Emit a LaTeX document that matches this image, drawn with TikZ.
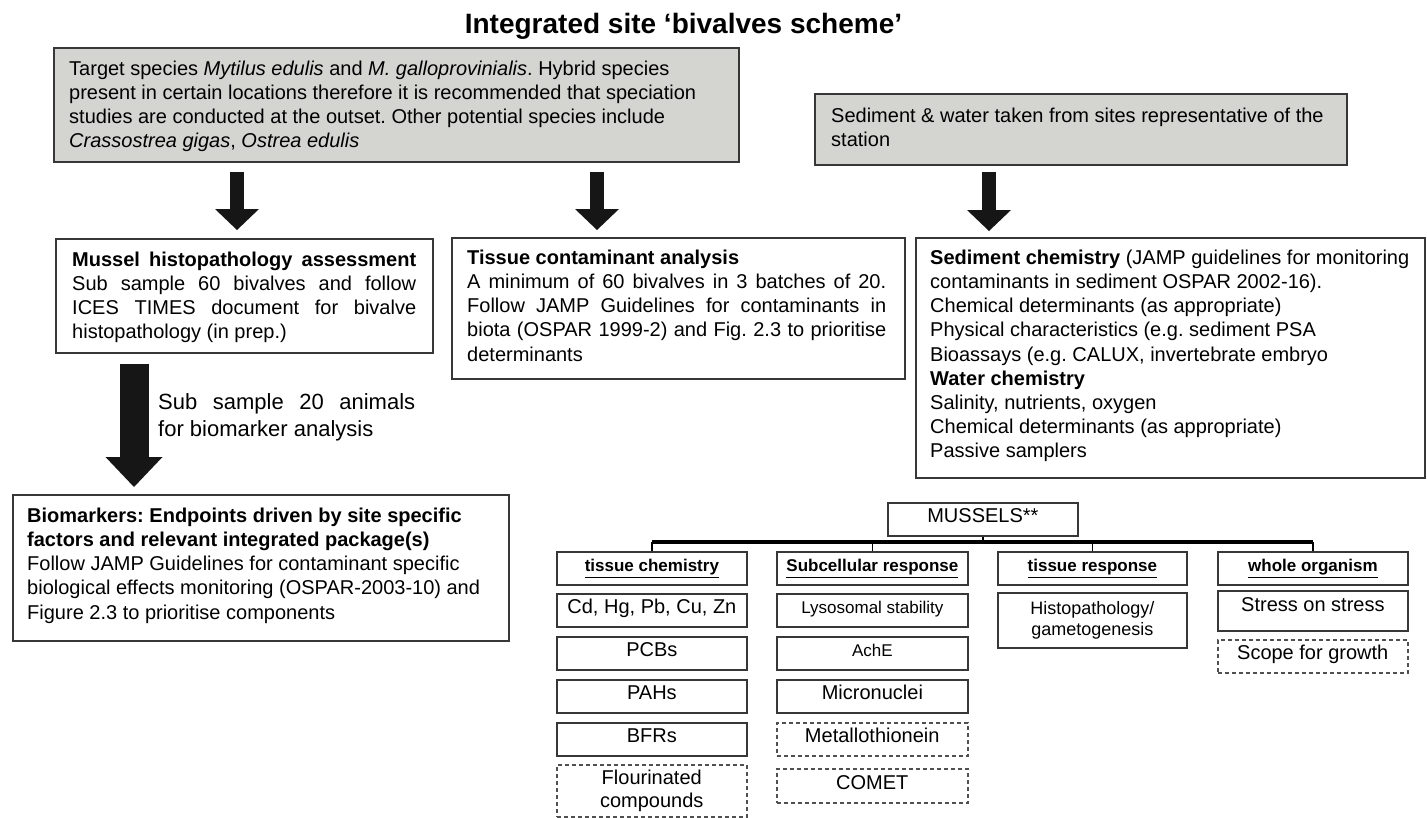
\documentclass[tikz,border=0pt]{standalone}
\usepackage{fontspec}
\setmainfont{Liberation Sans}
\usetikzlibrary{arrows.meta,shadows}
\definecolor{boxgray}{RGB}{212,212,208}
\definecolor{edgecol}{RGB}{55,55,55}
\definecolor{arrowblack}{RGB}{22,22,22}
\definecolor{dashcol}{RGB}{80,80,80}
\newcommand{\fsz}[2]{\fontsize{#1}{#2}\selectfont}
\newcommand{\firstln}{\rule{0pt}{16pt}}
\tolerance=10000
\frenchspacing
\tikzset{
  frame/.style={draw=edgecol, line width=1.6pt, inner sep=0pt, anchor=north west,
    drop shadow={shadow xshift=1.2pt, shadow yshift=-1.2pt, fill=black!55, opacity=0.8}},
  graybox/.style={frame, fill=boxgray},
  whitebox/.style={frame, fill=white},
  txt/.style={anchor=north west, inner sep=0pt, align=left, font=\fsz{20}{24.2}},
  jtxt/.style={txt, align=justify},
  bigarrow/.style={draw=arrowblack, line width=14pt, -{Triangle[width=44pt,length=21pt,line width=0pt]}},
  hugearrow/.style={draw=arrowblack, line width=29pt, -{Triangle[width=57pt,length=30pt,line width=0pt]}},
  item/.style={draw=edgecol, line width=1.8pt, fill=white, anchor=north west, inner sep=0pt,
    minimum width=190pt, minimum height=33pt, text height=13pt, text depth=6pt, font=\fsz{20}{23}},
  dashitem/.style={item, draw=dashcol, line width=1.5pt, dash pattern=on 4pt off 3pt},
  item2/.style={draw=edgecol, line width=1.8pt, fill=white, anchor=north west, inner sep=0pt,
    minimum width=190pt, align=center},
  head/.style={item, font=\bfseries\fsz{17}{20}},
  tick/.style={draw=black, line width=1.6pt},
  barline/.style={draw=black, line width=4pt}
}
\begin{document}
\begin{tikzpicture}[x=1pt,y=-1pt]
\useasboundingbox (0,0) rectangle (1427,817);
\fill[white] (0,0) rectangle (1427,817);

% title
\node[font=\bfseries\fsz{28}{32}, anchor=base, inner sep=0pt] (title) at (683.5,33) {Integrated site ‘bivalves scheme’};

% top boxes
\node[graybox, minimum width=685pt, minimum height=114pt] (tgt) at (53,47) {};
\node[txt] (tgtT) at (69,59) {\firstln Target species \textit{Mytilus edulis} and \textit{M. galloprovinialis}. Hybrid species\\
present in certain locations therefore it is recommended that speciation\\
studies are conducted at the outset. Other potential species include\\
\textit{Crassostrea gigas}, \textit{Ostrea edulis}};

\node[graybox, minimum width=532pt, minimum height=71pt] (sed) at (814,93) {};
\node[txt] (sedT) at (831,106) {\firstln Sediment \& water taken from sites representative of the\\ station};

% second row
\node[whitebox, minimum width=377pt, minimum height=114pt] (mh) at (55,238) {};
\node[jtxt, text width=344pt] (mhT) at (72,250) {\firstln\textbf{Mussel histopathology assessment}\linebreak
Sub sample 60 bivalves and follow\linebreak
ICES TIMES document for bivalve\linebreak
histopathology (in prep.)};

\node[whitebox, minimum width=453pt, minimum height=141pt] (tc) at (451,237) {};
\node[jtxt, text width=419pt] (tcT) at (467,248) {\firstln\textbf{Tissue contaminant analysis}\\
A minimum of 60 bivalves in 3 batches of 20.\linebreak
Follow JAMP Guidelines for contaminants in\linebreak
biota (OSPAR 1999-2) and Fig. 2.3 to prioritise\linebreak
determinants};

\node[whitebox, minimum width=509pt, minimum height=240pt] (sc) at (915,237) {};
\node[txt] (scT) at (930,248) {\firstln\textbf{Sediment chemistry} (JAMP guidelines for monitoring\\
contaminants in sediment OSPAR 2002-16).\\
Chemical determinants (as appropriate)\\
Physical characteristics (e.g. sediment PSA\\
Bioassays (e.g. CALUX, invertebrate embryo\\
\textbf{Water chemistry}\\
Salinity, nutrients, oxygen\\
Chemical determinants (as appropriate)\\
Passive samplers};

\node[whitebox, minimum width=496pt, minimum height=146pt] (bm) at (12,494) {};
\node[txt] (bmT) at (27,506) {\firstln\textbf{Biomarkers: Endpoints driven by site specific}\\
\textbf{factors and relevant integrated package(s)}\\
Follow JAMP Guidelines for contaminant specific\\
biological effects monitoring (OSPAR-2003-10) and\\
Figure 2.3 to prioritise components};

% arrows
\coordinate (ax1) at (237,0);
\coordinate (ax2) at (597,0);
\coordinate (ax3) at (989,0);
\coordinate (ax4) at (134,0);
\draw[bigarrow, shorten <=9pt, shorten >=8pt] (tgt.south -| ax1) -- (mh.north -| ax1);
\draw[bigarrow, shorten <=9pt, shorten >=7pt] (tgt.south -| ax2) -- (tc.north -| ax2);
\draw[bigarrow, shorten <=6pt, shorten >=6pt] (sed.south -| ax3) -- (sc.north -| ax3);
\draw[hugearrow, shorten <=10pt, shorten >=7pt] (mh.south -| ax4) -- (bm.north -| ax4);
\node[jtxt, text width=257pt, font=\fsz{22}{27}] (lab) at (158,392) {\rule{0pt}{17.5pt}Sub sample 20 animals\linebreak for biomarker analysis};

% mussels tree
\node[item] (mus) at (887,502) {MUSSELS**};
\node[head, minimum width=190pt] (h1) at (556,551) {\underline{tissue chemistry}};
\node[head, minimum width=191pt] (h2) at (776,551) {\underline{Subcellular response}};
\node[head, minimum width=189pt] (h3) at (997,551) {\underline{tissue response}};
\node[head, minimum width=190pt] (h4) at (1217,551) {\underline{whole organism}};

\coordinate (bary) at (0,542);
\draw[barline] (h1.north |- bary) -- (h4.north |- bary);
\draw[tick] (mus.south) -- (mus.south |- bary);
\draw[tick] (h1.north) -- (h1.north |- bary);
\draw[tick] (h2.north) -- (h2.north |- bary);
\draw[tick] (h3.north) -- (h3.north |- bary);
\draw[tick] (h4.north) -- (h4.north |- bary);

% column 1
\node[item] (c1a) at (556,593) {Cd, Hg, Pb, Cu, Zn};
\node[item] (c1b) at (556,636) {PCBs};
\node[item] (c1c) at (556,679) {PAHs};
\node[item] (c1d) at (556,722) {BFRs};
\node[item2, draw=dashcol, line width=1.5pt, dash pattern=on 4pt off 3pt, minimum height=52pt, font=\fsz{20}{23}] (c1e) at (556,764) {Flourinated\\compounds};

% column 2
\node[item, minimum width=191pt, font=\fsz{17}{20}] (c2a) at (776,593) {Lysosomal stability};
\node[item, minimum width=191pt, font=\fsz{17}{20}] (c2b) at (776,636) {AchE};
\node[item, minimum width=191pt] (c2c) at (776,679) {Micronuclei};
\node[dashitem, minimum width=191pt] (c2d) at (776,722) {Metallothionein};
\node[dashitem, minimum width=191pt, minimum height=34pt] (c2e) at (776,768) {COMET};

% column 3
\node[item2, minimum width=189pt, minimum height=55pt, font=\fsz{18}{21}] (c3a) at (997,592) {Histopathology/\\gametogenesis};

% column 4
\node[item, minimum height=40pt] (c4a) at (1217,590) {\raisebox{3pt}{Stress on stress}};
\node[dashitem] (c4b) at (1217,639) {Scope for growth};
\end{tikzpicture}
\end{document}
